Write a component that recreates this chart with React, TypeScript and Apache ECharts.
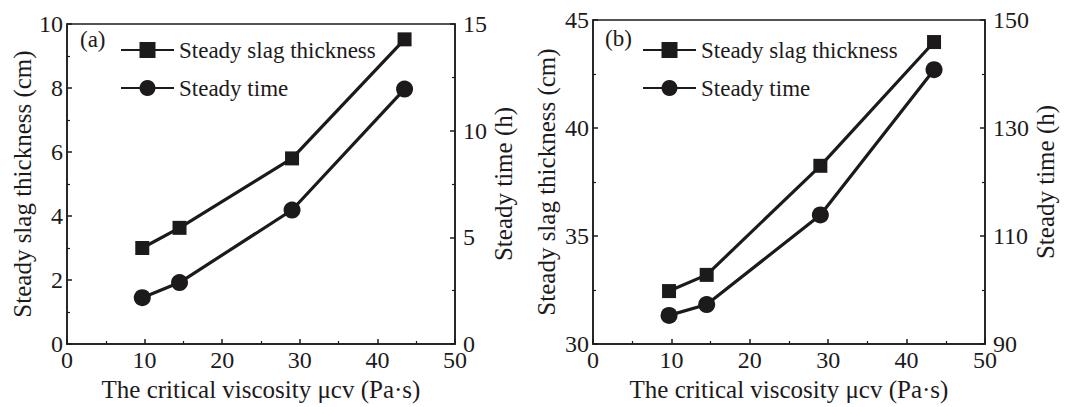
import React, { useEffect, useRef } from 'react';
import * as echarts from 'echarts';

// ---- data ----
const viscosity = [9.7, 14.5, 29, 43.5];
const thicknessA = [3.0, 3.63, 5.8, 9.52];
const timeA = [2.17, 2.88, 6.28, 11.95];
const thicknessB = [32.45, 33.2, 38.25, 43.98];
const timeB = [95.3, 97.3, 113.9, 140.8];

const seriesNames = ['Steady slag thickness', 'Steady time'];
const panelLabels = ['(a)', '(b)'];
const xTitle = 'The critical viscosity \u03BCcv (Pa\u00B7s)';
const yLeftTitle = 'Steady slag thickness (cm)';
const yRightTitle = 'Steady time (h)';

const FONT = "'Liberation Serif', 'Times New Roman', serif";
const INK = '#1c1a1b';

const pairs = (xs: number[], ys: number[]) => xs.map((x, i) => [x, ys[i]]);

function xAxis(gridIndex: number) {
  return {
    type: 'value',
    gridIndex,
    min: 0,
    max: 50,
    interval: 10,
    name: xTitle,
    nameLocation: 'middle',
    nameGap: 33,
    nameTextStyle: { fontFamily: FONT, fontSize: 25, color: INK },
    axisLine: { show: true, onZero: false, lineStyle: { color: INK, width: 1.5 } },
    axisTick: { show: true, inside: true, length: 5, lineStyle: { color: INK, width: 1.5 } },
    minorTick: { show: true, splitNumber: 2, length: 3, lineStyle: { color: INK, width: 1.2 } },
    axisLabel: { fontFamily: FONT, fontSize: 24, color: INK, margin: 4 },
    splitLine: { show: false },
    minorSplitLine: { show: false },
  };
}

function yAxis(opts: any) {
  const { gridIndex, position, min, max, interval, name, nameGap, margin, alignTicks } = opts;
  const ax: any = {
    type: 'value',
    gridIndex,
    position,
    min,
    max,
    name,
    nameLocation: 'middle',
    nameRotate: 90,
    nameGap,
    nameTextStyle: { fontFamily: FONT, fontSize: 25, color: INK },
    axisLine: { show: true, onZero: false, lineStyle: { color: INK, width: 1.5 } },
    axisTick: { show: true, inside: true, length: 5, lineStyle: { color: INK, width: 1.5 } },
    minorTick: { show: true, splitNumber: 2, length: 3, lineStyle: { color: INK, width: 1.2 } },
    axisLabel: { fontFamily: FONT, fontSize: 24, color: INK, margin },
    splitLine: { show: false },
    minorSplitLine: { show: false },
  };
  if (alignTicks) ax.alignTicks = true;
  else ax.interval = interval;
  return ax;
}

function lineSeries(name: string, symbol: string, size: number, x: number, y: number, data: number[][]) {
  return {
    type: 'line',
    name,
    xAxisIndex: x,
    yAxisIndex: y,
    data,
    symbol,
    symbolSize: size,
    showSymbol: true,
    lineStyle: { color: INK, width: 3.2 },
    itemStyle: { color: INK, borderWidth: 0 },
    z: symbol === 'rect' ? 3 : 2,
  };
}

function legend(left: number) {
  return {
    orient: 'vertical',
    left,
    top: 33,
    itemWidth: 53,
    itemHeight: 20,
    itemGap: 14,
    data: seriesNames,
    selectedMode: false,
    textStyle: { fontFamily: FONT, fontSize: 23, color: INK, lineHeight: 24, padding: [0, 0, 0, 0] },
  };
}

export default function App() {
  const ref = useRef<HTMLDivElement>(null);
  useEffect(() => {
    if (!ref.current) return;
    const chart = echarts.init(ref.current, null, { renderer: 'svg' });
    const option: any = {
      animation: false,
      backgroundColor: '#ffffff',
      grid: [
        { left: 67, right: 615, top: 24, bottom: 60, show: true, borderColor: INK, borderWidth: 1.5, backgroundColor: 'transparent' },
        { left: 593, right: 85, top: 20, bottom: 60, show: true, borderColor: INK, borderWidth: 1.5, backgroundColor: 'transparent' },
      ],
      xAxis: [xAxis(0), xAxis(1)],
      yAxis: [
        yAxis({ gridIndex: 0, position: 'left', min: 0, max: 10, interval: 2, name: yLeftTitle, nameGap: 32, margin: 4 }),
        yAxis({ gridIndex: 0, position: 'right', min: 0, max: 15, interval: 5, name: yRightTitle, nameGap: 29, margin: 8 }),
        yAxis({ gridIndex: 1, position: 'left', min: 30, max: 45, interval: 5, name: yLeftTitle, nameGap: 34, margin: 4 }),
        yAxis({ gridIndex: 1, position: 'right', min: 90, max: 150, alignTicks: true, name: yRightTitle, nameGap: 42, margin: 8 }),
      ],
      legend: [legend(115), legend(637)],
      series: [
        lineSeries(seriesNames[0], 'rect', 14, 0, 0, pairs(viscosity, thicknessA)),
        lineSeries(seriesNames[1], 'circle', 17, 0, 1, pairs(viscosity, timeA)),
        lineSeries(seriesNames[0], 'rect', 14, 1, 2, pairs(viscosity, thicknessB)),
        lineSeries(seriesNames[1], 'circle', 17, 1, 3, pairs(viscosity, timeB)),
      ],
      graphic: [
        { type: 'text', left: 80, top: 28, style: { text: panelLabels[0], font: `23px ${FONT}`, fill: INK } },
        { type: 'text', left: 605, top: 27, style: { text: panelLabels[1], font: `23px ${FONT}`, fill: INK } },
      ],
    };
    chart.setOption(option);
    return () => chart.dispose();
  }, []);
  return (
    <div
      ref={ref}
      style={{ position: 'fixed', left: 0, top: 0, width: 1070, height: 407, background: '#fff' }}
    />
  );
}
